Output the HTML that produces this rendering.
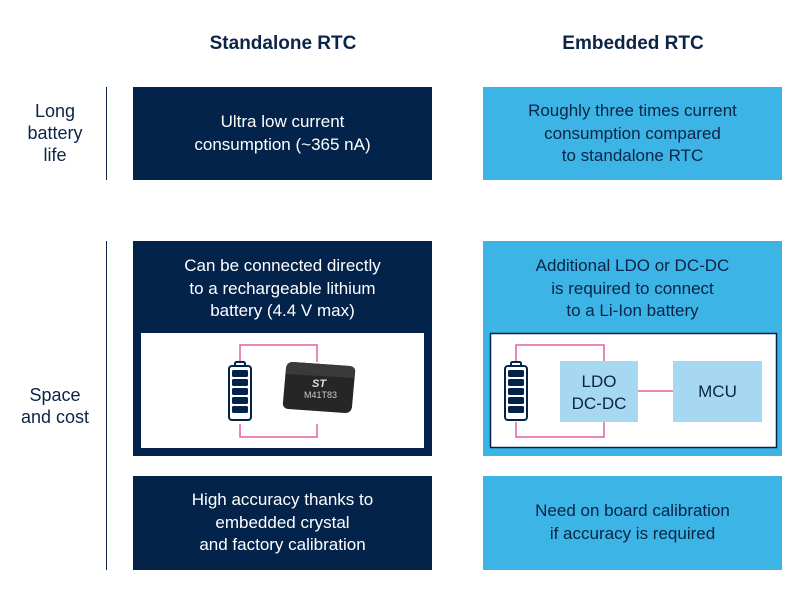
<!DOCTYPE html>
<html><head><meta charset="utf-8"><style>
body{margin:0;width:800px;height:600px;background:#fff;position:relative;overflow:hidden;font-family:"Liberation Sans",sans-serif}
div{position:absolute;box-sizing:border-box}
.hd{font-weight:bold;font-size:19px;color:#0b2447;text-align:center;width:300px;top:33px}
.lab{color:#0b2447;font-size:18px;line-height:22px;text-align:center;width:100px;left:5px}
.vl{left:106px;width:1px;background:#0b2447}
.nv{background:#03234b;color:#fff}
.lb{background:#3cb4e5;color:#0b2447}
.t{font-size:17px;line-height:22.5px;text-align:center;width:100%;left:0}
</style></head><body>
<div class="hd" style="left:133px">Standalone RTC</div>
<div class="hd" style="left:483px">Embedded RTC</div>
<div class="lab" style="top:100px">Long<br>battery<br>life</div>
<div class="vl" style="top:87px;height:93px"></div>
<div class="lab" style="top:384px">Space<br>and cost</div>
<div class="vl" style="top:241px;height:329px"></div>

<div class="nv" style="left:133px;top:87px;width:299px;height:93px"><div class="t" style="top:24px">Ultra low current<br>consumption (~365 nA)</div></div>
<div class="lb" style="left:483px;top:87px;width:299px;height:93px"><div class="t" style="top:13px">Roughly three times current<br>consumption compared<br>to standalone RTC</div></div>

<div class="nv" style="left:133px;top:241px;width:299px;height:215px"><div class="t" style="top:14px">Can be connected directly<br>to a rechargeable lithium<br>battery (4.4 V max)</div></div>
<div class="lb" style="left:483px;top:241px;width:299px;height:215px"><div class="t" style="top:14px">Additional LDO or DC-DC<br>is required to connect<br>to a Li-Ion battery</div></div>

<svg style="position:absolute;left:0;top:0" width="800" height="600">
<rect x="141" y="333" width="283" height="115" fill="#fff"/>
<rect x="490.5" y="333.5" width="286" height="114" fill="#fff" stroke="#03234b" stroke-width="1.5"/>
<g fill="none" stroke="#e0609e" stroke-width="1.5">
<polyline points="240,362 240,345 317,345 317,362"/>
<polyline points="240,424 240,437 317,437 317,424"/>
<polyline points="516,362 516,345 604,345 604,361"/>
<polyline points="516,422 516,437 604,437 604,422"/>
<line x1="638" y1="391" x2="673" y2="391"/>
</g>
<g>
<rect x="235" y="362" width="10" height="5" rx="1.5" fill="none" stroke="#03234b" stroke-width="2"/>
<rect x="229" y="366" width="22" height="54" rx="3" fill="#fff" stroke="#03234b" stroke-width="2"/>
<rect x="232" y="370" width="16" height="7" rx="1.5" fill="#03234b"/>
<rect x="232" y="379" width="16" height="7" rx="1.5" fill="#03234b"/>
<rect x="232" y="388" width="16" height="7" rx="1.5" fill="#03234b"/>
<rect x="232" y="397" width="16" height="7" rx="1.5" fill="#03234b"/>
<rect x="232" y="406" width="16" height="7" rx="1.5" fill="#03234b"/>
</g>
<g>
<rect x="511" y="362" width="10" height="5" rx="1.5" fill="none" stroke="#03234b" stroke-width="2"/>
<rect x="505" y="366" width="22" height="54" rx="3" fill="#fff" stroke="#03234b" stroke-width="2"/>
<rect x="508" y="370" width="16" height="7" rx="1.5" fill="#03234b"/>
<rect x="508" y="379" width="16" height="7" rx="1.5" fill="#03234b"/>
<rect x="508" y="388" width="16" height="7" rx="1.5" fill="#03234b"/>
<rect x="508" y="397" width="16" height="7" rx="1.5" fill="#03234b"/>
<rect x="508" y="406" width="16" height="7" rx="1.5" fill="#03234b"/>
</g>
<path d="M293,362 L350,366 Q356,367 355,373 L352,407 Q351,413 345,413 L288,409 Q282,408 283,402 L286,368 Q287,362 293,362 Z" fill="#262626"/>
<path d="M293,362 L350,366 Q356,367 355,373 L354,378 L286,374 L286,368 Q287,362 293,362 Z" fill="#3a3a3a"/>
<text x="312" y="387" font-size="11" font-weight="bold" fill="#ddd" font-style="italic">ST</text>
<text x="304" y="398" font-size="9" fill="#ccc">M41T83</text>
<rect x="560" y="361" width="78" height="61" fill="#a6d8f2"/>
<rect x="673" y="361" width="89" height="61" fill="#a6d8f2"/>
<text x="599" y="387" font-size="17" fill="#0b2447" text-anchor="middle">LDO</text>
<text x="599" y="409" font-size="17" fill="#0b2447" text-anchor="middle">DC-DC</text>
<text x="717.5" y="397" font-size="17" fill="#0b2447" text-anchor="middle">MCU</text>
</svg>

<div class="nv" style="left:133px;top:476px;width:299px;height:94px"><div class="t" style="top:13px">High accuracy thanks to<br>embedded crystal<br>and factory calibration</div></div>
<div class="lb" style="left:483px;top:476px;width:299px;height:94px"><div class="t" style="top:24px">Need on board calibration<br>if accuracy is required</div></div>
</body></html>
